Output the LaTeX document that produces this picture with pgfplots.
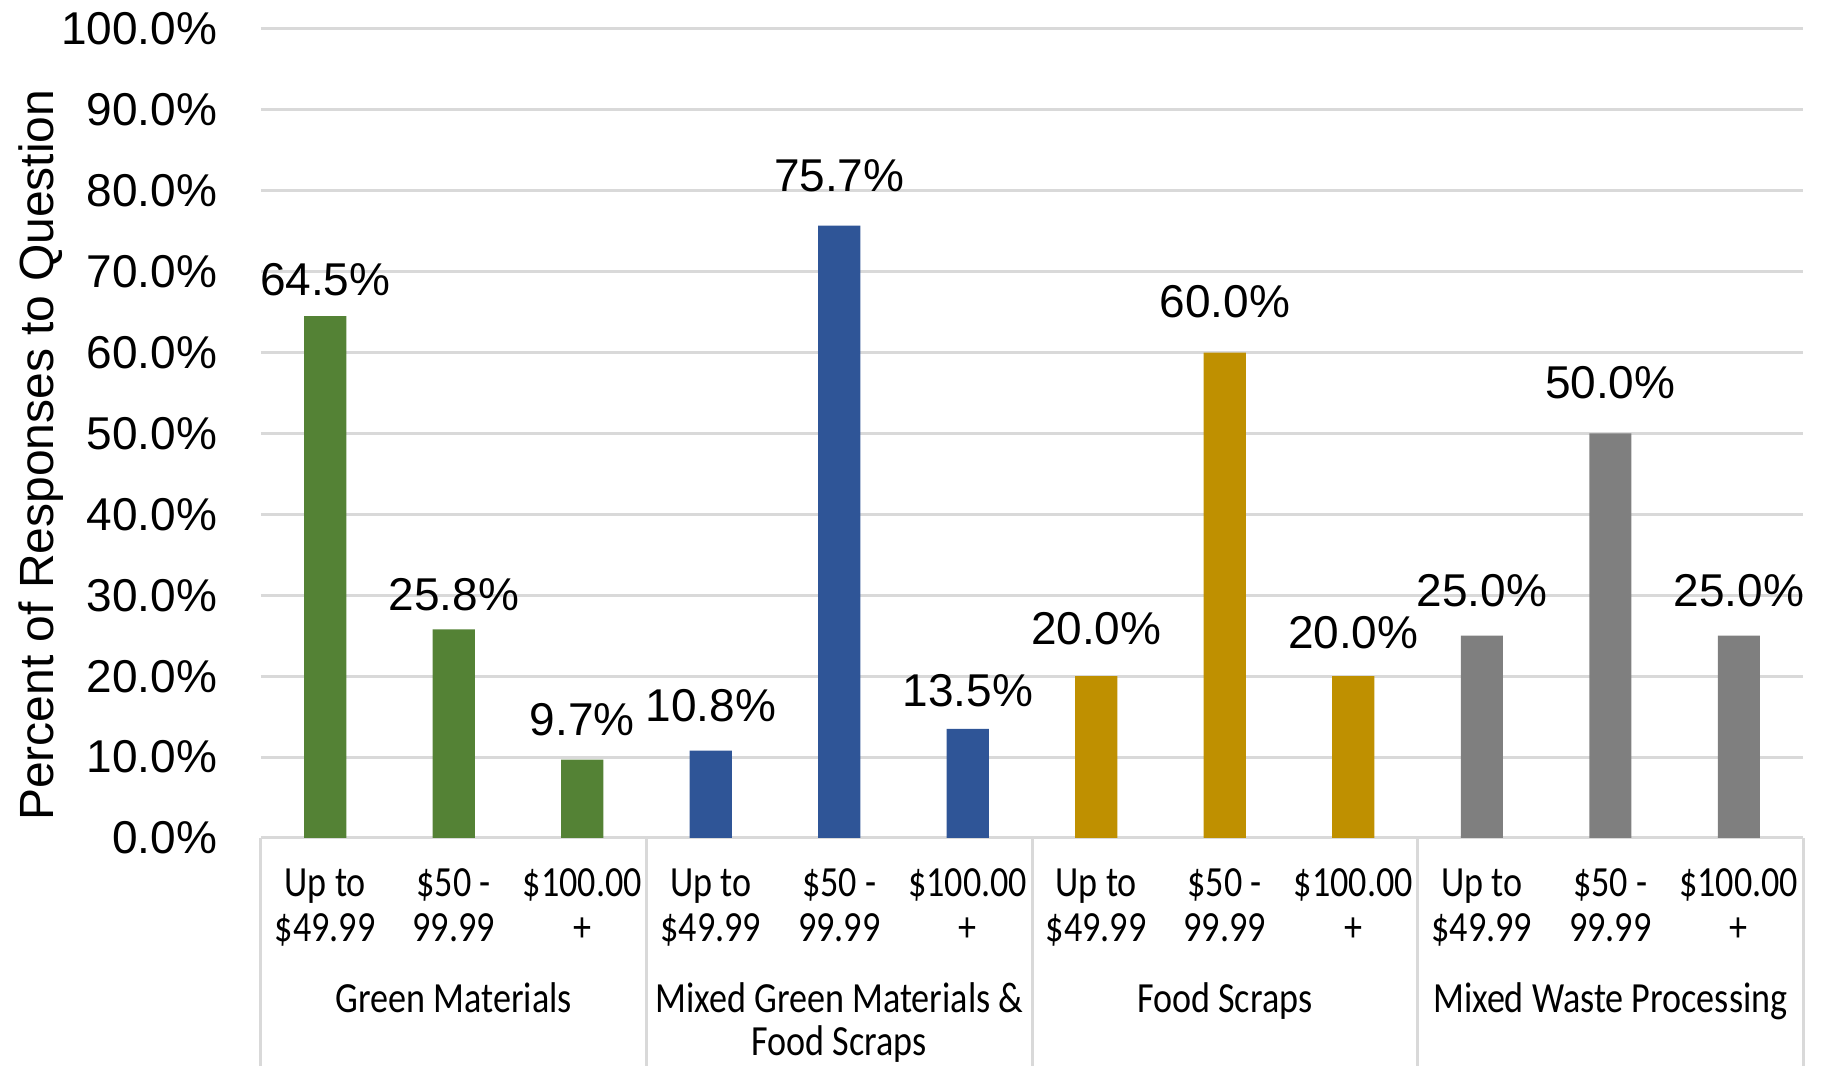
\documentclass[border=0pt]{standalone}
\usepackage{fontspec}
\setmainfont{Liberation Sans}
\newfontfamily\catfont[FakeStretch=0.84]{Carlito}
\usepackage{pgfplots}
\usepackage{pgfplotstable}
\pgfplotsset{compat=1.18}
\definecolor{cgreen}{HTML}{548235}
\definecolor{cblue}{HTML}{2F5597}
\definecolor{cgold}{HTML}{BF9000}
\definecolor{cgray}{HTML}{7F7F7F}
\definecolor{gridc}{HTML}{D9D9D9}
\pgfplotstableread{
x y dy
0 64.5 5.25
1 25.8 4.67
2 9.7 6.1
}\green
\pgfplotstableread{
x y dy
3 10.8 7.3
4 75.7 8.46
5 13.5 5.54
}\blue
\pgfplotstableread{
x y dy
6 20.0 7.9
7 60.0 8.75
8 20.0 7.0
}\gold
\pgfplotstableread{
x y dy
9 25.0 7.3
10 50.0 8.75
11 25.0 7.3
}\gray
\begin{document}
\begin{tikzpicture}
\begin{axis}[
  scale only axis, width=385.5pt, height=202.25pt,
  xmin=-0.5, xmax=11.5, ymin=0, ymax=100,
  ybar, bar width=0.327, bar shift=0pt,
  axis line style={draw=none},
  tick style={draw=none},
  ymajorgrids, grid style={gridc, line width=0.75pt},
  ytick={0,10,...,100},
  /pgf/number format/assume math mode=true,
  yticklabel={\pgfmathprintnumber[fixed,fixed zerofill,precision=1]{\tick}\%},
  yticklabel style={font=\fontsize{11.5}{13}\selectfont, inner sep=0pt, anchor=east, xshift=-10.75pt},
  xtick={0,...,11},
  xticklabels={{Up to\\\$49.99},{\$50 -\\99.99},{\$100.00\\+},
               {Up to\\\$49.99},{\$50 -\\99.99},{\$100.00\\+},
               {Up to\\\$49.99},{\$50 -\\99.99},{\$100.00\\+},
               {Up to\\\$49.99},{\$50 -\\99.99},{\$100.00\\+}},
  xticklabel style={font=\catfont\fontsize{10.75}{11.2}\selectfont, align=center, anchor=base, inner sep=0pt, yshift=-21.6pt},
  visualization depends on={\thisrow{dy} \as \dy},
  nodes near coords={\pgfmathprintnumber[fixed,fixed zerofill,precision=1]{\pgfplotspointmeta}\%},
  every node near coord/.append style={font=\fontsize{11.5}{13}\selectfont, text=black, anchor=base, inner sep=0pt, yshift=\dy pt},
  clip=false,
]
\addplot[fill=cgreen, draw=none] table[x=x, y=y] {\green};
\addplot[fill=cblue, draw=none] table[x=x, y=y] {\blue};
\addplot[fill=cgold, draw=none] table[x=x, y=y] {\gold};
\addplot[fill=cgray, draw=none] table[x=x, y=y] {\gray};
\draw[gridc, line width=0.75pt] (axis cs:-0.5,0) -- (axis cs:-0.5,-30);
\draw[gridc, line width=0.75pt] (axis cs:2.5,0) -- (axis cs:2.5,-30);
\draw[gridc, line width=0.75pt] (axis cs:5.5,0) -- (axis cs:5.5,-30);
\draw[gridc, line width=0.75pt] (axis cs:8.5,0) -- (axis cs:8.5,-30);
\draw[gridc, line width=0.75pt] (axis cs:11.5,0) -- (axis cs:11.5,-30);
\node[font=\catfont\fontsize{10.75}{10.75}\selectfont, align=center, anchor=base, inner sep=0pt] at (axis cs:1,-21.51) {Green Materials};
\node[font=\catfont\fontsize{10.75}{10.9}\selectfont, align=center, anchor=base, inner sep=0pt] at (axis cs:4,-26.9) {Mixed Green Materials \&\\Food Scraps};
\node[font=\catfont\fontsize{10.75}{10.75}\selectfont, align=center, anchor=base, inner sep=0pt] at (axis cs:7,-21.51) {Food Scraps};
\node[font=\catfont\fontsize{10.75}{10.75}\selectfont, align=center, anchor=base, inner sep=0pt] at (axis cs:10,-21.51) {Mixed Waste Processing};
\node[rotate=90, font=\fontsize{12}{13}\selectfont] at (axis cs:-2.208,47.3) {Percent of Responses to Question};
\end{axis}
\pgfresetboundingbox
\path[use as bounding box] (current axis.south west) ++(-65.25pt,-57pt) rectangle ++(457.5pt,266.5pt);
\end{tikzpicture}
\end{document}
